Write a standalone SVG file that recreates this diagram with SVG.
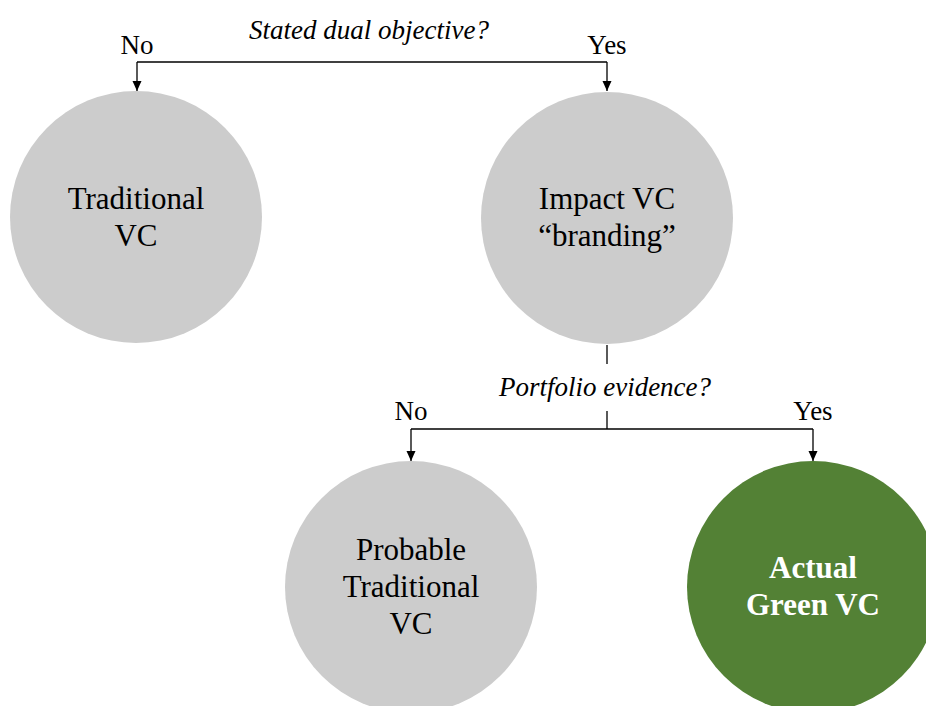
<svg xmlns="http://www.w3.org/2000/svg" width="926" height="706" viewBox="0 0 926 706">
  <defs>
    <marker id="arrow" viewBox="0 0 10 10" refX="10" refY="5" markerWidth="10" markerHeight="10" markerUnits="userSpaceOnUse" orient="auto">
      <path d="M0,0.5 L10,5 L0,9.5 Z" fill="#000"/>
    </marker>
    <style>
      .node-grey { fill: #cccccc; }
      .node-green { fill: #538135; }
      .label { font-family: "Liberation Serif", "Times New Roman", serif; font-size: 27px; fill: #000; text-anchor: middle; }
      .question { font-family: "Liberation Serif", "Times New Roman", serif; font-size: 27px; font-style: italic; fill: #000; text-anchor: middle; }
      .node-text { font-family: "Liberation Serif", "Times New Roman", serif; font-size: 31px; fill: #000; text-anchor: middle; }
      .node-text-bold { font-family: "Liberation Serif", "Times New Roman", serif; font-size: 31px; font-weight: bold; fill: #ffffff; text-anchor: middle; }
      .conn { fill: none; stroke: #000; stroke-width: 1.3; }
    </style>
  </defs>
  <rect width="926" height="706" fill="#ffffff"/>

  <g id="connectors">
    <path class="conn" d="M137,62 L607,62"/>
    <path class="conn" d="M137,62 L137,91" marker-end="url(#arrow)"/>
    <path class="conn" d="M607,62 L607,91" marker-end="url(#arrow)"/>
    <path class="conn" d="M607,345 L607,364"/>
    <path class="conn" d="M607,411 L607,429"/>
    <path class="conn" d="M411,429 L813,429"/>
    <path class="conn" d="M411,429 L411,461" marker-end="url(#arrow)"/>
    <path class="conn" d="M813,429 L813,461" marker-end="url(#arrow)"/>
  </g>

  <g id="labels">
    <text class="question" x="369" y="39">Stated dual objective?</text>
    <text class="label" x="137" y="54">No</text>
    <text class="label" x="607" y="54">Yes</text>
    <text class="question" x="605" y="396">Portfolio evidence?</text>
    <text class="label" x="411" y="420">No</text>
    <text class="label" x="813" y="420">Yes</text>
  </g>

  <g id="traditional-vc">
    <circle class="node-grey" cx="136" cy="217" r="126"/>
    <text class="node-text" x="136" y="209">Traditional</text>
    <text class="node-text" x="136" y="246">VC</text>
  </g>

  <g id="impact-vc">
    <circle class="node-grey" cx="607" cy="218" r="126"/>
    <text class="node-text" x="607" y="209">Impact VC</text>
    <text class="node-text" x="607" y="246">“branding”</text>
  </g>

  <g id="probable-traditional-vc">
    <circle class="node-grey" cx="411" cy="587" r="126"/>
    <text class="node-text" x="411" y="560">Probable</text>
    <text class="node-text" x="411" y="597">Traditional</text>
    <text class="node-text" x="411" y="634">VC</text>
  </g>

  <g id="actual-green-vc">
    <circle class="node-green" cx="813" cy="587" r="126"/>
    <text class="node-text-bold" x="813" y="578">Actual</text>
    <text class="node-text-bold" x="813" y="615">Green VC</text>
  </g>
</svg>
